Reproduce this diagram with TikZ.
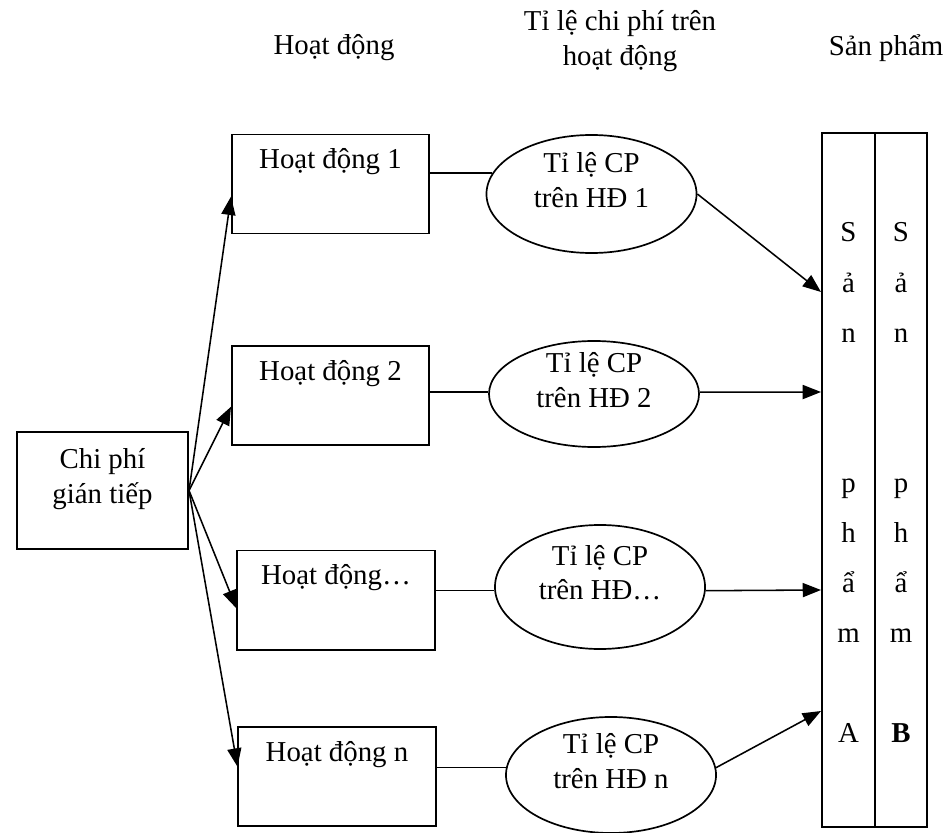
\documentclass[tikz,border=0pt]{standalone}
\usepackage{fontspec}
\setmainfont{Liberation Serif}
\usetikzlibrary{shapes.geometric, arrows.meta, positioning}
\tikzset{
  actbox/.style={draw, line width=1.4pt, minimum width=4.925cm, minimum height=2.475cm},
  costbox/.style={draw, line width=1.4pt, minimum width=4.275cm, minimum height=2.925cm},
  rateoval/.style={draw, ellipse, line width=1.2pt, minimum width=5.25cm, inner sep=0pt},
  colbox/.style={draw, line width=1.4pt, minimum height=17.35cm},
  link/.style={line width=1.1pt},
  flow/.style={line width=1.1pt, -{Triangle[length=13pt,width=10pt]}},
}

\begin{document}
\begin{tikzpicture}[x=0.025cm, y=-0.025cm, font=\fontsize{20.5}{24.5}\selectfont]
\useasboundingbox (0,0) rectangle (946,833);

% Column headers
\node (hd1) at (334,48) {Hoạt động};
\node[align=center] (hd2) at (620,41) {Tỉ lệ chi phí trên\\hoạt động};
\node (hd3) at (886,48) {Sản phẩm};

% Indirect cost box
\node[costbox] (cp) at (102.5,490.5) {};
\node[align=center] (cpt) at ([yshift=8pt]cp.center) {Chi phí\\gián tiếp};

% Activity boxes
\foreach \i/\x/\y/\txt in {1/330.5/184/Hoạt động 1, 2/330.5/395.5/Hoạt động 2, 3/336/600/Hoạt động…, 4/337/776.5/Hoạt động n}
{
    \node[actbox] (a\i) at (\x,\y) {};
    \node[anchor=base] (at\i) at ([yshift=-25pt]a\i.north) {\txt};
}

% Rate ovals
\foreach \i/\x/\y/\h/\txt in {1/591.5/194/2.95/trên HĐ 1, 2/594/394/2.65/trên HĐ 2, 3/600/587/3.1/trên HĐ…, 4/611/775/2.9/trên HĐ n}
{
    \node[rateoval, minimum height=\h cm] (e\i) at (\x,\y) {};
    \node[align=center] (et\i) at ([yshift=10pt]e\i.center) {Tỉ lệ CP\\\txt};
}

% Product columns
\node[colbox, minimum width=1.325cm] (pa) at (848.5,480) {};
\node[colbox, minimum width=1.3cm] (pb) at (901,480) {};

% Letters down the columns
\foreach \ch/\y [count=\k] in {S/242, ả/292, n/342, p/492, h/542, ẩ/592, m/642}
{
    \node[anchor=base] (la\k) at (848.5,\y) {\ch};
    \node[anchor=base] (lb\k) at (901,\y) {\ch};
}
\node[anchor=base] (la8) at (848.5,742) {A};
\node[anchor=base] (lb8) at (901,742) {\textbf{B}};

% Arrows from indirect cost to activities
\foreach \i/\dy in {1/-9, 2/-8, 3/-6, 4/7}
    \draw[flow] (cp.east) -- ([yshift=\dy pt]a\i.west);

% Lines from activities to rates
\foreach \i/\ang in {1/168, 2/179, 3/182, 4/176}
    \draw[link] (a\i.east |- e\i.\ang) -- (e\i.\ang);

% Arrows from rates to products
\foreach \i/\ang/\t in {1/0/292, 2/1/392, 3/358/590, 4/4/711}
{
    \coordinate (p\i) at (pa.west |- 0,\t);
    \draw[flow] (e\i.\ang) -- (p\i);
}

\end{tikzpicture}
\end{document}
